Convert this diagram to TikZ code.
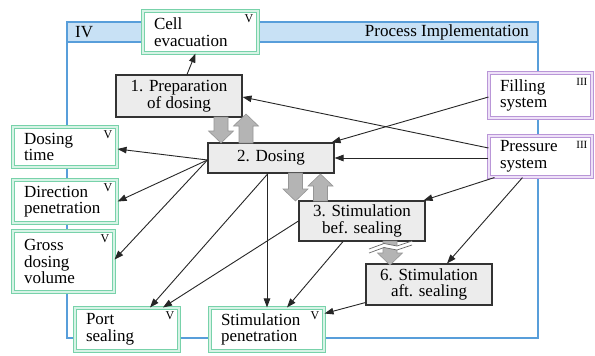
\documentclass[tikz,border=0pt]{standalone}
\usepackage{fontspec}
\setmainfont{Liberation Serif}
\usetikzlibrary{arrows.meta}
\definecolor{frameblue}{RGB}{88,158,218}
\definecolor{bandblue}{RGB}{200,225,245}
\definecolor{gline}{RGB}{120,210,170}
\definecolor{gfill}{RGB}{215,243,230}
\definecolor{pline}{RGB}{185,150,215}
\definecolor{pfill}{RGB}{238,225,248}
\definecolor{boxgray}{RGB}{236,236,236}
\definecolor{arrgray}{RGB}{180,180,180}
\definecolor{arredge}{RGB}{150,150,150}
\tikzset{
 txt/.style={font=\fontsize{17}{16.5}\selectfont},
 procbox/.style={draw=black!80, line width=1.1pt, fill=boxgray, align=center, inner sep=0pt, txt},
 sysbox/.style={double distance=1.8pt, line width=1.1pt, inner xsep=11pt, inner ysep=0pt, align=left, txt},
 gbox/.style={sysbox, draw=gline, double=gfill, fill=white},
 pbox/.style={sysbox, draw=pline, double=pfill, fill=white},
 tag/.style={font=\fontsize{12}{12}\selectfont, inner sep=0pt},
 ptag/.style={font=\fontsize{11}{11}\selectfont, inner sep=0pt},
 conn/.style={-{Triangle[length=9pt,width=6.5pt]}, line width=0.9pt, black!85},
 blk/.style={fill=arrgray, draw=arredge, line width=0.6pt},
}
\newcommand\bdown[3]{\filldraw[blk] ({#1-7},#2) -- ({#1+7},#2) -- ({#1+7},{#3-12}) -- ({#1+12.5},{#3-12}) -- (#1,#3) -- ({#1-12.5},{#3-12}) -- ({#1-7},{#3-12}) -- cycle;}
\newcommand\bup[3]{\filldraw[blk] ({#1-7},#3) -- ({#1+7},#3) -- ({#1+7},{#2+12}) -- ({#1+12.5},{#2+12}) -- (#1,#2) -- ({#1-12.5},{#2+12}) -- ({#1-7},{#2+12}) -- cycle;}
\begin{document}
\begin{tikzpicture}[x=1pt,y=-1pt]
\useasboundingbox (0,0) rectangle (595,356);
\fill[white] (0,0) rectangle (595,356);
% frame
\draw[frameblue, line width=2.4pt, fill=bandblue] (67,22) rectangle (538,42);
\draw[frameblue, line width=2.4pt] (67,22) rectangle (538,338);
\node[txt, anchor=west, inner sep=0pt] (iv) at (75,32) {IV};
\node[txt, anchor=east, inner sep=0pt] (pi) at (529,32) {Process Implementation};
% boxes
\node[gbox, text width=93pt, minimum height=42pt] (cell) at (200.5,32) {Cell\\evacuation};
\node[procbox, minimum width=126pt, minimum height=42pt] (prep) at (179,96) {1. Preparation\\of dosing};
\node[gbox, text width=82pt, minimum height=40pt] (dtime) at (65,147) {Dosing\\time};
\node[gbox, text width=82pt, minimum height=43pt] (dirp) at (65,201.5) {Direction\\penetration};
\node[gbox, text width=79pt, minimum height=61pt] (gross) at (63.5,261.5) {Gross\\dosing\\volume};
\node[gbox, text width=82pt, minimum height=43pt] (port) at (127,329.5) {Port\\sealing};
\node[gbox, text width=92pt, minimum height=43pt] (stimpen) at (267,329.5) {Stimulation\\penetration};
\node[procbox, minimum width=126pt, minimum height=30pt] (dosing) at (271,158) {2. Dosing};
\node[procbox, minimum width=126pt, minimum height=40pt] (s3) at (362,221) {3. Stimulation\\bef. sealing};
\node[procbox, minimum width=126pt, minimum height=41pt] (s6) at (429,284.5) {6. Stimulation\\aft. sealing};
\node[pbox, text width=81pt, minimum height=45pt] (fill) at (540.5,95.5) {Filling\\system};
\node[pbox, text width=81pt, minimum height=41pt] (press) at (540.5,156.5) {Pressure\\system};
% tags
\foreach \b in {cell,dtime,dirp,gross,port,stimpen}
  \node[tag, anchor=north east] (\b-tag) at ([xshift=-5pt,yshift=-4pt]\b.north east) {V};
\foreach \b in {fill,press}
  \node[ptag, anchor=north east] (\b-tag) at ([xshift=-5pt,yshift=-6pt]\b.north east) {III};
% connectors
\draw[conn] ([xshift=8pt]prep.north) -- ([xshift=-5pt]cell.south);
\draw[conn] ([yshift=8.5pt]press.west) -- ([yshift=-1pt]prep.east);
\draw[conn] ([yshift=-1.5pt]fill.west) -- ([xshift=-3pt]dosing.north east);
\draw[conn] (press.west |- dosing.east) -- (dosing.east);
\draw[conn] ([xshift=6pt]press.south west) -- ([xshift=-2pt]s3.north east);
\draw[conn] ([xshift=-18pt]press.south) -- ([xshift=18pt]s6.north);
\draw[conn] ([yshift=-2pt]dosing.west) -- ([yshift=-2pt]dtime.east);
\draw[conn] ([yshift=-2pt]dosing.west) -- (dirp.east);
\draw[conn] ([yshift=-2pt]dosing.west) -- ([yshift=2pt]gross.east);
\draw[conn] ([xshift=-3pt]dosing.south) -- ([xshift=23pt]port.north);
\draw[conn] (s3.west) -- ([xshift=36pt]port.north);
\draw[conn] (dosing.south -| stimpen.north) -- (stimpen.north);
\draw[conn] ([xshift=-19pt]s3.south) -- ([xshift=20pt]stimpen.north);
\draw[conn] ([yshift=3pt]s6.south west) -- ([yshift=16pt]stimpen.east);
% block arrows
\bdown{221}{117}{143}
\bup{246}{114}{143}
\bdown{295.5}{173}{201}
\bup{320.5}{174}{201}
\bdown{390}{241}{265}
\fill[white] (369,249) -- (384,243.5) -- (397,246) -- (412,241) -- (412,245) -- (397,250) -- (384,247.5) -- (369,253) -- cycle;
\draw[arredge!70!black, line width=0.7pt] (369,249) -- (384,243.5) -- (397,246) -- (412,241);
\draw[arredge!70!black, line width=0.7pt] (369,253) -- (384,247.5) -- (397,250) -- (412,245);
\end{tikzpicture}
\end{document}
